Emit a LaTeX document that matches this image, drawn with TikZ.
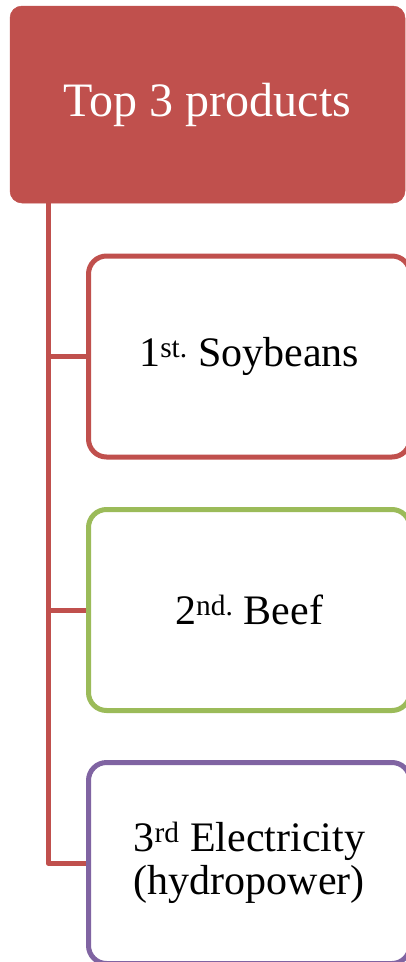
\documentclass[tikz,border=0pt]{standalone}
\usepackage{fontspec}
\setmainfont{Liberation Serif}
\definecolor{cred}{HTML}{C0504D}
\definecolor{cgreen}{HTML}{9BBB59}
\definecolor{cpurple}{HTML}{8064A2}
\begin{document}
\begin{tikzpicture}[x=1pt,y=1pt,
  topbox/.style={fill=cred, draw=cred, line width=0.5pt, rounded corners=12pt,
    minimum width=395pt, minimum height=197pt, inner sep=0pt,
    text=white, font=\fontsize{48}{56}\selectfont},
  childbox/.style={draw=#1, fill=white, line width=5pt, rounded corners=18pt,
    minimum width=321.5pt, minimum height=201pt, inner sep=0pt, align=center,
    font=\fontsize{42}{43}\selectfont},
  conn/.style={draw=cred, line width=5pt, line join=round}]
\useasboundingbox (0,0) rectangle (405,-962);
\node[topbox] (top) at (207.5,-104.5) {Top 3 products};
\node[childbox=cred] (c1) at (249.25,-356.5) {1\textsuperscript{st.} Soybeans};
\node[childbox=cgreen] (c2) at (249.25,-610) {2\textsuperscript{nd.} Beef};
\node[childbox=cpurple] (c3) at (249.25,-863) {3\textsuperscript{rd} Electricity\\(hydropower)};
\coordinate (sp) at (48,0);
\draw[conn] (sp |- top.south) -- (sp |- c3.west) -- (c3.west);
\draw[conn] (sp |- c1.west) -- (c1.west);
\draw[conn] (sp |- c2.west) -- (c2.west);
\end{tikzpicture}
\end{document}
